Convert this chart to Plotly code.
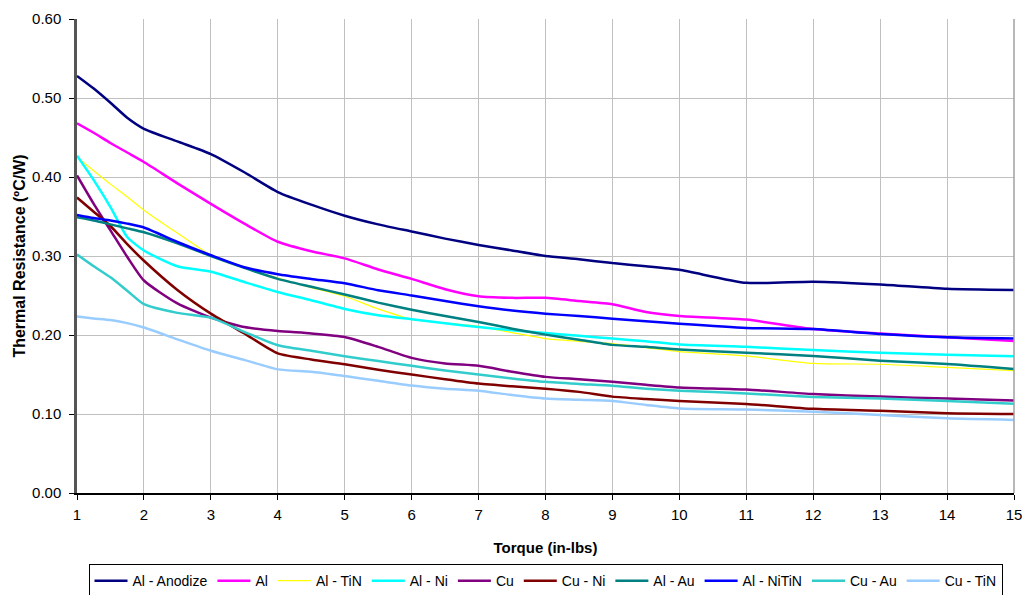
import plotly.graph_objects as go

torque = [1, 1.25, 1.5, 1.75, 2, 2.5, 3, 3.5, 4, 4.5, 5, 5.5, 6, 6.5, 7, 7.5,
          8, 8.5, 9, 9.5, 10, 11, 12, 13, 14, 15]

al_anodize = [0.528, 0.512, 0.494, 0.475, 0.461, 0.445, 0.429, 0.406, 0.381, 0.365, 0.351, 0.340, 0.331,
              0.322, 0.314, 0.307, 0.300, 0.296, 0.291, 0.287, 0.2825, 0.266, 0.2675, 0.264, 0.2585, 0.257]
al = [0.468, 0.456, 0.443, 0.431, 0.419, 0.392, 0.366, 0.341, 0.318, 0.306, 0.297, 0.283, 0.271,
      0.258, 0.249, 0.247, 0.247, 0.243, 0.239, 0.229, 0.224, 0.2195, 0.2075, 0.202, 0.197, 0.1925]
al_tin = [0.425, 0.408, 0.391, 0.375, 0.358, 0.329, 0.301, 0.285, 0.272, 0.260, 0.249, 0.233, 0.220,
          0.215, 0.211, 0.203, 0.1955, 0.192, 0.189, 0.184, 0.179, 0.1735, 0.164, 0.163, 0.159, 0.155]
al_ni = [0.427, 0.396, 0.362, 0.324, 0.307, 0.287, 0.280, 0.267, 0.2545, 0.244, 0.233, 0.225, 0.220,
         0.215, 0.210, 0.206, 0.2025, 0.199, 0.1955, 0.192, 0.188, 0.185, 0.181, 0.1775, 0.175, 0.173]
cu = [0.402, 0.366, 0.3325, 0.299, 0.269, 0.240, 0.222, 0.210, 0.205, 0.202, 0.1975, 0.185, 0.171,
      0.164, 0.161, 0.1535, 0.147, 0.144, 0.1407, 0.137, 0.1337, 0.131, 0.1253, 0.122, 0.1195, 0.117]
cu_ni = [0.374, 0.356, 0.338, 0.315, 0.294, 0.257, 0.227, 0.202, 0.1767, 0.169, 0.163, 0.156, 0.150,
         0.144, 0.1385, 0.135, 0.132, 0.128, 0.122, 0.119, 0.1165, 0.1128, 0.1065, 0.104, 0.101, 0.100]
al_au = [0.349, 0.345, 0.340, 0.335, 0.330, 0.316, 0.300, 0.285, 0.271, 0.261, 0.2513, 0.241, 0.232,
         0.224, 0.2165, 0.208, 0.2005, 0.194, 0.1875, 0.185, 0.1817, 0.1776, 0.1735, 0.1675, 0.1633, 0.157]
al_nitin = [0.352, 0.348, 0.345, 0.341, 0.336, 0.3177, 0.301, 0.2857, 0.277, 0.271, 0.2655, 0.2567, 0.250,
            0.243, 0.2365, 0.231, 0.227, 0.224, 0.2207, 0.2175, 0.2143, 0.209, 0.2075, 0.2012, 0.197, 0.1955]
cu_au = [0.302, 0.287, 0.273, 0.256, 0.239, 0.228, 0.222, 0.204, 0.187, 0.180, 0.173, 0.167, 0.161,
         0.155, 0.150, 0.145, 0.1407, 0.138, 0.1357, 0.132, 0.1295, 0.126, 0.1215, 0.1195, 0.1165, 0.113]
cu_tin = [0.2235, 0.221, 0.219, 0.215, 0.2095, 0.1945, 0.180, 0.1685, 0.1565, 0.1535, 0.148, 0.142, 0.136,
          0.132, 0.1295, 0.124, 0.1195, 0.118, 0.1165, 0.1115, 0.107, 0.1057, 0.103, 0.0988, 0.0945, 0.0925]

series_names = ["Al - Anodize", "Al", "Al - TiN", "Al - Ni", "Cu", "Cu - Ni",
                "Al - Au", "Al - NiTiN", "Cu - Au", "Cu - TiN"]
series_values = [al_anodize, al, al_tin, al_ni, cu, cu_ni, al_au, al_nitin, cu_au, cu_tin]
colors = ["#000080", "#FF00FF", "#FFFF00", "#00FFFF", "#800080", "#800000",
          "#008080", "#0000FF", "#33CCCC", "#99CCFF"]
widths = [2.5, 2.5, 1.2, 2.5, 2.5, 2.5, 2.5, 2.5, 2.5, 2.5]

x_ticks = list(range(1, 16))
y_ticks = [0.0, 0.1, 0.2, 0.3, 0.4, 0.5, 0.6]

fig = go.Figure()
for name, vals, c, w in zip(series_names, series_values, colors, widths):
    fig.add_trace(go.Scatter(x=torque, y=vals, name=name, mode="lines",
                             line=dict(color=c, width=w, shape="spline", smoothing=0.6)))

font_family = "Liberation Sans, Arial, sans-serif"
fig.update_layout(
    width=1023, height=595,
    margin=dict(l=77, r=9, t=19, b=102, autoexpand=False),
    paper_bgcolor="white", plot_bgcolor="white",
    font=dict(family=font_family, size=15, color="black"),
    showlegend=True,
    legend=dict(orientation="h", x=0.5, xanchor="center", y=-0.15, yanchor="top",
                bordercolor="black", borderwidth=1, bgcolor="white",
                font=dict(family=font_family, size=14, color="black"),
                itemwidth=33, tracegroupgap=0, traceorder="normal"),
    xaxis=dict(range=[1, 15], tickvals=x_ticks, ticktext=[str(t) for t in x_ticks],
               showgrid=True, gridcolor="#C0C0C0", gridwidth=1,
               showline=True, linecolor="black", linewidth=1.5, mirror=False,
               ticks="outside", ticklen=5, tickcolor="black", zeroline=False,
               ticklabelstandoff=2, automargin=False, ticklabeloverflow="allow",
               tickfont=dict(size=15),
               title=dict(text="<b>Torque (in-lbs)</b>", font=dict(size=15), standoff=21)),
    yaxis=dict(range=[0, 0.6], tickvals=y_ticks, tickformat=".2f",
               showgrid=True, gridcolor="#C0C0C0", gridwidth=1,
               showline=True, linecolor="#555555", linewidth=2.5,
               ticks="outside", ticklen=5, tickcolor="black", zeroline=False,
               ticklabelstandoff=5, automargin=False, ticklabeloverflow="allow",
               tickfont=dict(size=15),
               title=dict(text="<b>Thermal Resistance (ºC/W)</b>", font=dict(size=16), standoff=3)),
)
fig.add_shape(type="line", xref="paper", yref="paper", x0=1, x1=1, y0=0, y1=1,
              line=dict(color="#A0A0A0", width=1.5))

fig.write_html("out.html", config={"displayModeBar": False},
               post_script="document.body.style.margin='0px';document.body.style.overflow='hidden';")
